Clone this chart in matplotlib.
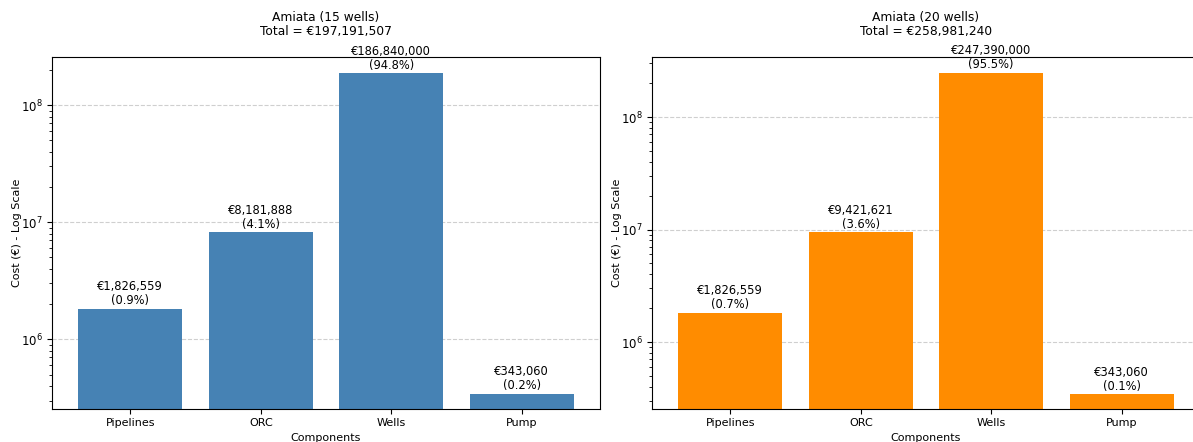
import numpy as np
import matplotlib.pyplot as plt

# Cost data for the two Amiata scenarios
components = ["Pipelines", "ORC", "Wells", "Pump"]
costs_15 = [1826559, 8181888, 186840000, 343060]
costs_20 = [1826559, 9421621, 247390000, 343060]
titles = ["Amiata (15 wells)", "Amiata (20 wells)"]
colors = ["steelblue", "darkorange"]

W, H = 1193, 442
fig = plt.figure(figsize=(W / 100, H / 100), dpi=100)

# axes placed in pixel terms (right panel runs slightly past the figure edge)
boxes = [(52, 57, 548, 352), (652, 57, 548, 352)]

for (x0, y0, w, h), costs, title, color in zip(boxes, [costs_15, costs_20], titles, colors):
    ax = fig.add_axes([x0 / W, 1 - (y0 + h) / H, w / W, h / H])
    total = sum(costs)
    x = np.arange(len(components))
    ax.bar(x, costs, color=color, width=0.8)
    ax.set_yscale("log")
    ax.set_ylim(min(costs) / 1.35, max(costs) * 1.38)
    ax.set_xlim(-0.6, len(components) - 0.4)
    ax.set_xticks(x)
    ax.set_xticklabels(components, fontsize=8)
    ax.tick_params(axis="x", labelsize=8, length=3.5, pad=3)
    ax.tick_params(axis="y", labelsize=8.5, length=3.5, pad=3)
    ax.set_axisbelow(True)
    ax.grid(axis="y", linestyle="--", alpha=0.6)

    for xi, v in zip(x, costs):
        ax.text(xi, v * 1.03, f"€{v:,.0f}\n({v / total * 100:.1f}%)",
                ha="center", va="bottom", fontsize=8.3, linespacing=1.1)

    ax.set_title(f"{title}\nTotal = €{total:,.0f}", fontsize=8.8, pad=15.5, linespacing=1.15)
    ax.set_xlabel("Components", fontsize=8)
    ax.set_ylabel("Cost (€) - Log Scale", fontsize=8)
    ax.xaxis.set_label_coords(0.5, -24 / h)
    ax.yaxis.set_label_coords(-30 / w, 0.5)

plt.savefig("out.png", dpi=100)
